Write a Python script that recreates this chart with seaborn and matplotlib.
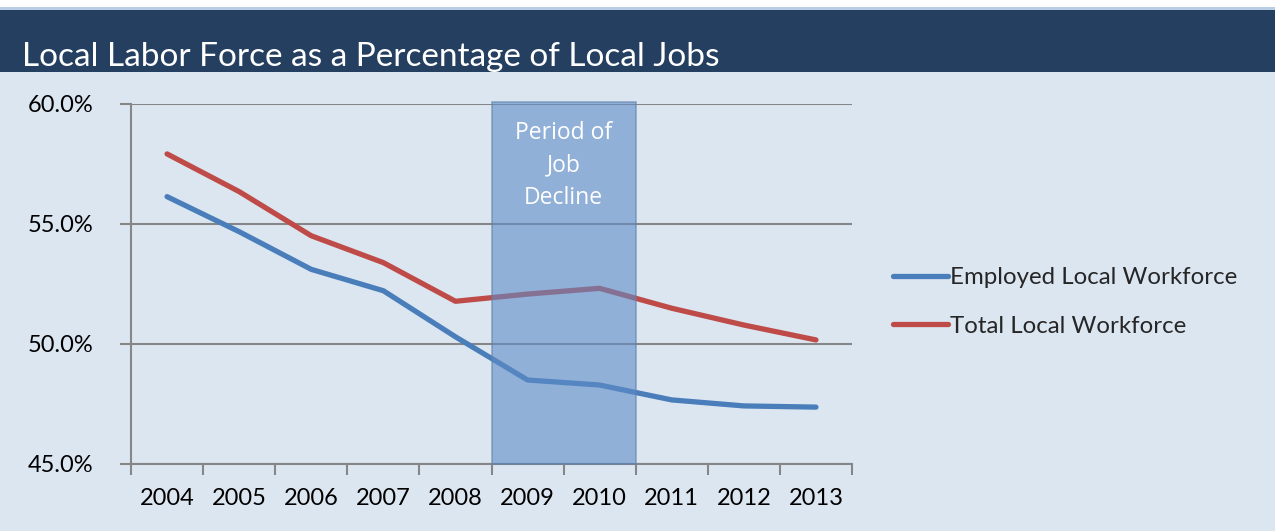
import matplotlib
matplotlib.use("Agg")
import matplotlib.pyplot as plt
from matplotlib.patches import Rectangle
from matplotlib.ticker import FixedLocator, FuncFormatter
import pandas as pd
import seaborn as sns

years = [2004, 2005, 2006, 2007, 2008, 2009, 2010, 2011, 2012, 2013]
employed = [56.14, 54.68, 53.11, 52.22, 50.30, 48.50, 48.29, 47.67, 47.42, 47.37]
total = [57.92, 56.35, 54.51, 53.39, 51.78, 52.08, 52.32, 51.49, 50.79, 50.17]
series_names = ["Employed Local Workforce", "Total Local Workforce"]
title_text = "Local Labor Force as a Percentage of Local Jobs"
band_label = "Period of\nJob\nDecline"
band_years = [2009, 2010]
y_ticks = [45.0, 50.0, 55.0, 60.0]

df = pd.DataFrame({
    "year": years * 2,
    "value": employed + total,
    "series": [series_names[0]] * len(years) + [series_names[1]] * len(years),
})

sns.set_theme(style="white")
plt.rcParams["font.family"] = ["Lato", "DejaVu Sans"]

bg = "#DCE6F1"
fig = plt.figure(figsize=(12.75, 5.31), dpi=100, facecolor=bg)

# title banner
fig.patches.append(Rectangle((0, 1 - 10 / 531), 1, 10 / 531, transform=fig.transFigure,
                             facecolor="white", edgecolor="none", zorder=0))
fig.patches.append(Rectangle((0, 1 - 10 / 531), 1, 3 / 531, transform=fig.transFigure,
                             facecolor="#B9CDE5", edgecolor="none", zorder=1))
fig.patches.append(Rectangle((0, 1 - 72 / 531), 1, 62 / 531, transform=fig.transFigure,
                             facecolor="#243F60", edgecolor="none", zorder=1))
fig.text(22 / 1275, 1 - 66 / 531, title_text, color="white", fontsize=24,
         fontweight="normal", ha="left", va="baseline")

ax = fig.add_axes([131 / 1275, 1 - 464 / 531, (852 - 131) / 1275, (464 - 104) / 531])
ax.set_facecolor(bg)

palette = {series_names[0]: "#4A7EBB", series_names[1]: "#BE4B48"}
sns.lineplot(data=df, x="year", y="value", hue="series", palette=palette,
             linewidth=3.8, ax=ax, legend=True, zorder=3,
             solid_capstyle="round", solid_joinstyle="round")

ax.set_xlim(years[0] - 0.5, years[-1] + 0.5)
ax.set_ylim(45, 60)

# shaded period
ax.axvspan(band_years[0] - 0.5, band_years[-1] + 0.5, ymin=0, ymax=1.006,
           facecolor="#5F8CC6", alpha=0.6, edgecolor="#5F7FAA", linewidth=1.2,
           zorder=4, clip_on=False)
ax.text((band_years[0] + band_years[-1]) / 2, 59.3, band_label, ha="center", va="top",
        color="white", fontsize=16.5, linespacing=1.48, zorder=5,
        fontfamily=["Open Sans", "DejaVu Sans"])

# grid and spines
ax.yaxis.set_major_locator(FixedLocator(y_ticks))
ax.yaxis.set_major_formatter(FuncFormatter(lambda v, p: f"{v:.1f}%"))
ax.grid(axis="y", color="#868686", linewidth=1.5, zorder=1)
ax.set_axisbelow(True)
for s in ["top", "right"]:
    ax.spines[s].set_visible(False)
for s in ["left", "bottom"]:
    ax.spines[s].set_color("#868686")
    ax.spines[s].set_linewidth(1.5)

ax.set_xticks(years)
ax.set_xticklabels([str(y) for y in years])
ax.set_xticks([y - 0.5 for y in years] + [years[-1] + 0.5], minor=True)
ax.tick_params(axis="x", which="major", bottom=True, length=0, pad=17, labelsize=17,
               labelcolor="black")
ax.tick_params(axis="x", which="minor", bottom=True, length=8, width=1.5, color="#868686",
               direction="out")
ax.tick_params(axis="y", which="major", left=True, length=8, width=1.5, color="#868686",
               direction="out", pad=19, labelsize=17, labelcolor="black")
ax.set_xlabel("")
ax.set_ylabel("")

# legend
handles, labels = ax.get_legend_handles_labels()
ax.legend(handles, labels, loc="center left", bbox_to_anchor=(1.043, 0.45),
          frameon=False, fontsize=17.3, handlelength=2.3, handletextpad=0.1,
          labelspacing=1.15, borderaxespad=0)

fig.savefig("out.png", dpi=100, facecolor=bg)
